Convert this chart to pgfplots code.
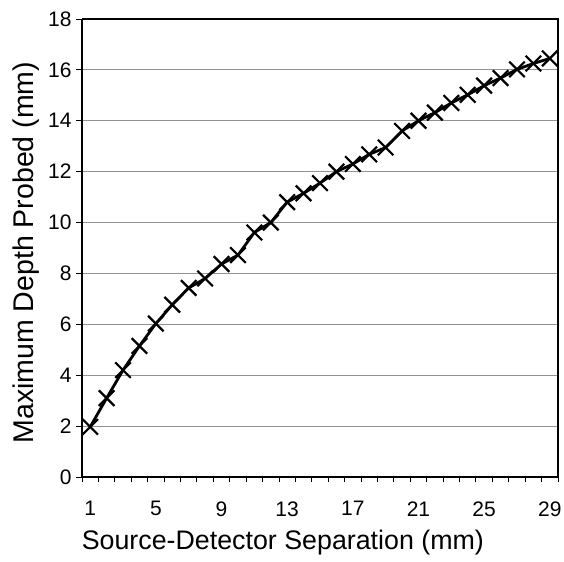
\documentclass[border=0pt]{standalone}
\usepackage{fontspec}
\setmainfont{Liberation Sans}
\usepackage{pgfplots}
\pgfplotsset{compat=1.18}
\begin{document}
\begin{tikzpicture}[x=1bp,y=1bp]
\begin{axis}[
  scale only axis,
  width=476bp, height=458bp,
  xmin=0.5, xmax=29.5,
  ymin=0, ymax=18,
  xtick={1,5,...,29},
  minor xtick={0.5,1.5,...,29.5},
  ytick={0,2,...,18},
  tick align=outside,
  major tick length=6bp,
  minor tick length=5bp,
  x tick style={draw=none},
  minor x tick style={draw=black, line width=0.9bp},
  y tick style={draw=black, line width=0.9bp},
  axis x line*=bottom, axis y line*=left,
  axis line style={line width=1.8bp, black, -},
  ymajorgrids,
  grid style={line width=0.9bp, gray!85},
  tick label style={font=\fontsize{21bp}{23bp}\selectfont},
  /pgf/number format/assume math mode=true,
  xticklabel style={yshift=-15bp},
  yticklabel style={xshift=-1bp},
  xlabel={Source-Detector Separation (mm)},
  ylabel={Maximum Depth Probed (mm)},
  xlabel style={font=\fontsize{26.8bp}{29bp}\selectfont, at={(axis description cs:0.422,-0.144)}, anchor=center},
  ylabel style={font=\fontsize{28.5bp}{30bp}\selectfont, at={(axis description cs:-0.117,0.49)}, anchor=center, rotate=0},
  clip=false,
]
\addplot[black, line width=2.8bp, mark=x, mark size=11bp, mark options={line width=2.2bp}] coordinates {
(1,1.97) (2,3.1) (3,4.2) (4,5.15) (5,6.03) (6,6.77) (7,7.43) (8,7.8) (9,8.37) (10,8.72)
(11,9.61) (12,10.0) (13,10.8) (14,11.15) (15,11.55) (16,12.0) (17,12.3) (18,12.68) (19,12.95) (20,13.6)
(21,14.0) (22,14.32) (23,14.7) (24,15.02) (25,15.38) (26,15.68) (27,16.02) (28,16.25) (29,16.45)
};
\draw[line width=1.8bp] (rel axis cs:1,0) -- (rel axis cs:1,1) -- (rel axis cs:0,1);
\end{axis}
\pgfresetboundingbox
\path (-82,-85) rectangle (482,477);
\end{tikzpicture}
\end{document}
